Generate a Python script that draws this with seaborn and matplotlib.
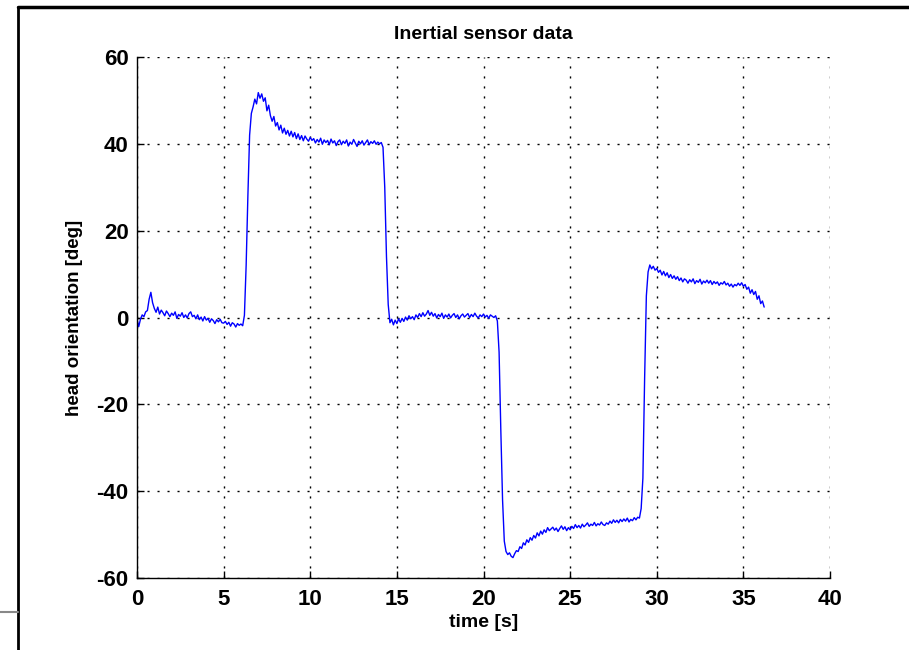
import numpy as np
import pandas as pd
import matplotlib
matplotlib.use("Agg")
import matplotlib.pyplot as plt
import seaborn as sns
from matplotlib.lines import Line2D

sample_step_s = 0.1
angle_deg = [
    -0.3, -2.1, -0.4, 0.6, 0.2, 1.3, 1.6, 4.2, 5.8, 3.4,
    2.1, 1.2, 2.4, 0.8, 1.7, 1.1, 0.4, 1.5, 0.9, 0.2,
    1.0, 0.5, 1.3, -0.2, 0.7, 0.3, 1.1, 0.0, 0.6, -0.1,
    0.9, 1.3, 0.2, 0.5, -0.3, 0.6, -0.5, 0.1, -0.8, 0.2,
    -0.6, -0.2, -1.1, -0.3, -0.7, -1.4, -0.5, -1.0, -0.4, -1.2,
    -1.3, -0.9, -1.6, -1.1, -2.0, -1.2, -1.5, -2.2, -1.4, -1.8,
    -1.5, -1.9, 0.5, 12.0, 28.0, 42.0, 47.0, 48.5, 50.3, 49.2,
    51.8, 50.5, 51.5, 49.8, 50.6, 47.6, 48.9, 46.5, 45.2, 46.3,
    44.1, 44.9, 43.2, 44.3, 42.5, 43.6, 42.2, 43.1, 41.8, 42.9,
    41.6, 42.6, 41.2, 42.3, 41.0, 41.9, 40.7, 41.8, 41.1, 40.6,
    41.5, 40.8, 41.2, 40.2, 41.0, 40.4, 41.3, 39.9, 40.9, 40.3,
    40.8, 39.8, 41.1, 40.2, 40.7, 39.6, 40.5, 40.9, 39.8, 40.6,
    40.1, 40.9, 39.5, 40.4, 39.9, 41.0, 40.2, 39.4, 40.6, 40.0,
    40.7, 39.7, 40.3, 40.9, 39.8, 40.5, 40.1, 40.7, 39.9, 40.4,
    40.0, 40.3, 39.2, 30.0, 14.0, 3.0, -1.2, -0.4, -1.7, -0.6,
    -1.4, -0.3, -1.1, -0.2, -0.9, 0.1, -0.6, 0.4, -0.3, 0.2,
    -0.5, 0.6, 0.0, 0.9, 0.2, 1.1, 0.3, 0.8, 1.6, 0.5,
    1.2, 0.3, 0.9, -0.1, 0.7, 0.2, 1.0, -0.2, 0.6, 0.1,
    0.8, -0.1, 0.5, 0.9, 0.0, 0.6, -0.3, 0.4, 0.8, 0.1,
    0.5, 0.9, 0.0, 0.7, 0.2, 1.0, 0.3, -0.1, 0.6, 0.2,
    0.8, 0.1, 0.5, -0.2, 0.6, 0.3, 0.0, 0.4, -0.8, -8.0,
    -26.0, -42.0, -51.5, -53.9, -54.6, -54.2, -55.0, -55.3, -54.4, -53.7,
    -53.9, -52.8, -53.2, -51.9, -52.4, -51.2, -51.8, -50.7, -51.3, -50.2,
    -50.8, -49.6, -50.3, -49.2, -49.9, -48.9, -49.5, -48.4, -49.1, -48.7,
    -48.3, -49.0, -48.5, -49.3, -48.6, -48.0, -48.8, -48.2, -49.1, -48.4,
    -48.9, -48.1, -48.6, -47.7, -48.4, -47.9, -48.5, -47.6, -48.2, -47.8,
    -47.3, -48.1, -47.6, -47.9, -47.2, -48.0, -47.5, -47.8, -47.1, -47.7,
    -47.9, -47.3, -47.6, -46.9, -47.4, -46.6, -47.2, -46.7, -47.3, -46.5,
    -47.0, -46.4, -46.9, -46.2, -47.1, -46.5, -46.8, -46.1, -46.6, -46.0,
    -46.2, -44.0, -37.0, -14.0, 5.0, 10.5, 12.1, 11.2, 11.8, 10.9,
    11.3, 10.4, 10.9, 9.8, 10.6, 9.6, 10.3, 9.2, 9.9, 9.0,
    9.6, 8.8, 9.4, 8.5, 9.1, 8.2, 8.9, 8.6, 7.9, 8.7,
    8.2, 8.9, 7.8, 8.5, 8.1, 8.8, 7.7, 8.4, 8.0, 8.6,
    7.9, 8.5, 7.6, 8.3, 7.8, 8.2, 7.4, 8.0, 7.7, 8.3,
    7.5, 7.9, 7.2, 7.7, 7.0, 7.6, 7.3, 7.9, 7.4, 8.0,
    7.2, 7.6, 6.5, 7.0, 5.6, 6.4, 5.3, 6.0, 4.2, 5.0,
    3.2, 3.8, 2.4,
]
time_s = np.round(np.arange(len(angle_deg)) * sample_step_s, 2)

x_ticks = [0, 5, 10, 15, 20, 25, 30, 35, 40]
y_ticks = [-60, -40, -20, 0, 20, 40, 60]

title_text = "Inertial sensor data"
x_label = "time [s]"
y_label = "head orientation [deg]"

df = pd.DataFrame({"time": time_s, "angle": angle_deg})

# ---- styling ----
sns.set_theme(style="white")
plt.rcParams["font.family"] = ["Liberation Sans", "DejaVu Sans"]
plt.rcParams["font.weight"] = "bold"
plt.rcParams["text.color"] = "black"
plt.rcParams["axes.labelcolor"] = "black"
plt.rcParams["xtick.color"] = "black"
plt.rcParams["ytick.color"] = "black"

fig = plt.figure(figsize=(9.09, 6.5), dpi=100)
ax = fig.add_axes([137 / 909, 1 - 578 / 650, (830 - 137) / 909, (578 - 57) / 650])

sns.lineplot(data=df, x="time", y="angle", ax=ax, color="#0000ff",
             linewidth=1.0, estimator=None, sort=False)

ax.set_xlim(0, 40)
ax.set_ylim(-60, 60)
ax.set_xticks(x_ticks)
ax.set_yticks(y_ticks)
ax.set_xticklabels([str(v) for v in x_ticks], fontsize=16, fontweight="bold", color="black")
ax.set_yticklabels([str(v) for v in y_ticks], fontsize=16, fontweight="bold", color="black")
ax.tick_params(axis="x", direction="in", length=5, width=1, color="black", pad=8,
               top=False, bottom=True)
ax.tick_params(axis="y", direction="in", length=5, width=1, color="black", pad=6,
               left=True, right=False)

ax.grid(True, color="black", linestyle=(0, (1.5, 5.7)), linewidth=1.0)
for side in ["top", "right"]:
    ax.spines[side].set_visible(False)
for side in ["left", "bottom"]:
    ax.spines[side].set_visible(True)
    ax.spines[side].set_color("black")
    ax.spines[side].set_linewidth(1.0)

ax.set_title(title_text, fontsize=14, fontweight="bold", pad=13, color="black")
ax.set_xlabel(x_label, fontsize=14, fontweight="bold", labelpad=3, color="black")
ax.set_ylabel(y_label, fontsize=13.5, fontweight="bold", labelpad=10, color="black")

# screenshot frame around the figure
fig.add_artist(Line2D([18 / 909, 18 / 909], [0, 1 - 6.5 / 650], transform=fig.transFigure,
                      color="black", linewidth=2))
fig.add_artist(Line2D([18 / 909, 1], [1 - 6.5 / 650, 1 - 6.5 / 650], transform=fig.transFigure,
                      color="black", linewidth=2.5))
fig.add_artist(Line2D([0, 18 / 909], [1 - 612 / 650, 1 - 612 / 650], transform=fig.transFigure,
                      color="#888888", linewidth=1.5))

fig.savefig("out.png", dpi=100)
